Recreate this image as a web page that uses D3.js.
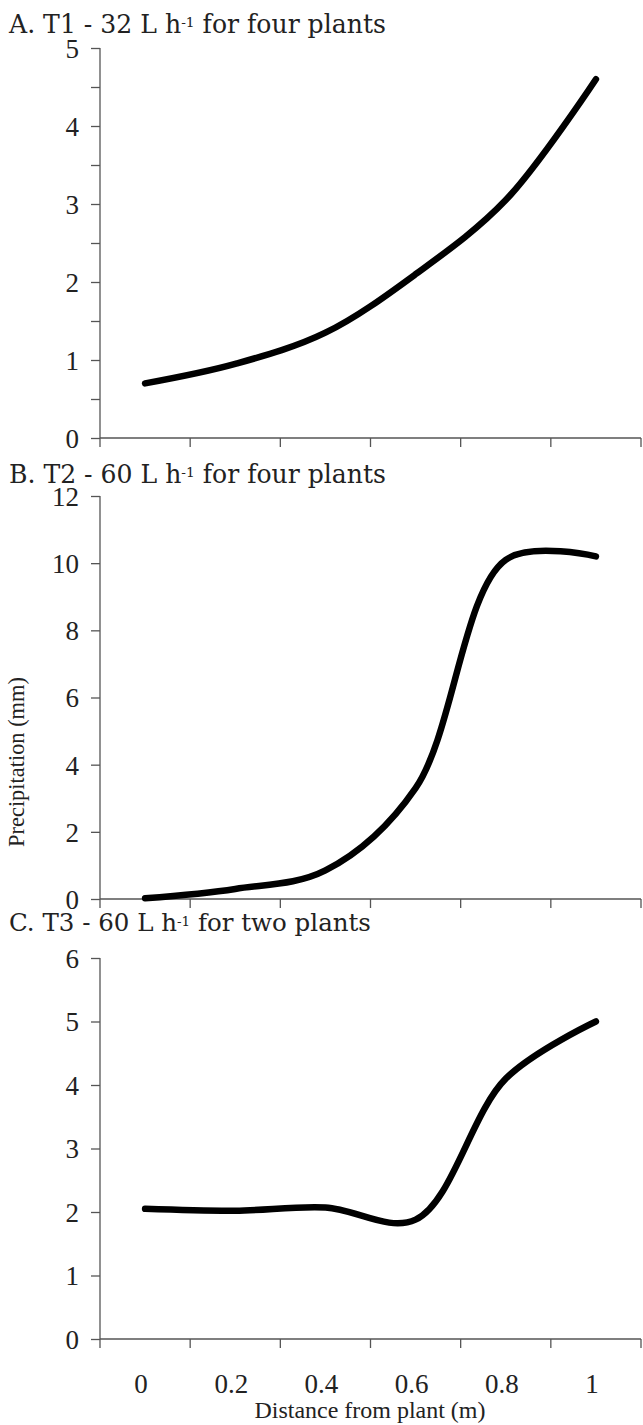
<!DOCTYPE html>
<html>
<head>
<meta charset="utf-8">
<script src="https://cdn.jsdelivr.net/npm/d3@7"></script>
<style>
html,body{margin:0;padding:0;background:#fff;}
svg{display:block;}
</style>
</head>
<body>
<svg id="chart" width="643" height="1425"></svg>
<script>
// ---- data ----
const categories = ["0", "0.2", "0.4", "0.6", "0.8", "1"];
const seriesA = [0.7, 0.95, 1.35, 2.1, 3.05, 4.6];
const seriesB = [0.02, 0.3, 0.85, 3.3, 10.1, 10.2];
const seriesC = [2.05, 2.02, 2.07, 1.88, 4.1, 5.0];
const ticksA = [0, 1, 2, 3, 4, 5];
const ticksB = [0, 2, 4, 6, 8, 10, 12];
const ticksC = [0, 1, 2, 3, 4, 5, 6];
const titles = [
  ["A. T1 - 32 L h", "-1", " for four plants"],
  ["B. T2 - 60 L h", "-1", " for four plants"],
  ["C. T3 - 60 L h", "-1", " for two plants"]
];
const xTitle = "Distance from plant (m)";
const yTitle = "Precipitation (mm)";

// pick an installed Times-like font
function fontAvailable(name) {
  const c = document.createElement("canvas").getContext("2d");
  const s = "mmmmmmmmmwwwwlli10.2ABC";
  c.font = "40px monospace"; const a = c.measureText(s).width;
  c.font = `40px '${name}', monospace`; const b = c.measureText(s).width;
  c.font = "40px sans-serif"; const a2 = c.measureText(s).width;
  c.font = `40px '${name}', sans-serif`; const b2 = c.measureText(s).width;
  return a !== b || a2 !== b2;
}
const serifCandidates = ["Liberation Serif", "Tinos", "Times New Roman", "Times",
  "Nimbus Roman", "FreeSerif", "Noto Serif", "DejaVu Serif"];
const serifName = serifCandidates.find(fontAvailable) || "DejaVu Serif";
const SERIF = `'${serifName}', serif`;
const TITLEFONT = "'DejaVu Serif', serif";

const svg = d3.select("#chart");
const x = d3.scaleBand().domain(categories).range([100, 641]).padding(0);

const panels = [
  {data: seriesA, ticks: ticksA, minor: 0.5, max: 5, top: 48, bottom: 438, titleY: 33, title: titles[0]},
  {data: seriesB, ticks: ticksB, minor: null, max: 12, top: 496, bottom: 899, titleY: 483, title: titles[1]},
  {data: seriesC, ticks: ticksC, minor: null, max: 6, top: 958, bottom: 1339, titleY: 931, title: titles[2]}
];

const axisColor = "#555";

function fitWidth(sel, target, base) {
  sel.style("font-size", base + "px");
  const w = sel.node().getComputedTextLength();
  if (w > 0) sel.style("font-size", (base * target / w).toFixed(2) + "px");
}

panels.forEach((p, idx) => {
  const y = d3.scaleLinear().domain([0, p.max]).range([p.bottom, p.top]);
  const g = svg.append("g");

  // title
  const t = g.append("text").attr("x", 9).attr("y", p.titleY)
    .attr("font-family", TITLEFONT).attr("fill", "#222");
  t.append("tspan").text(p.title[0]);
  t.append("tspan").text(p.title[1]).attr("dy", "-0.4em").style("font-size", "0.55em");
  t.append("tspan").text(p.title[2]).attr("dy", "0.22em");
  fitWidth(t, idx === 2 ? 362 : 377, 22);

  // y axis
  const tickVals = p.minor ? d3.range(0, p.max + 1e-9, p.minor) : p.ticks;
  const yAxis = d3.axisLeft(y).tickValues(tickVals).tickSizeOuter(0).tickSizeInner(9)
    .tickPadding(12)
    .tickFormat(d => p.ticks.includes(d) ? d3.format("d")(d) : "");
  const ya = g.append("g").attr("transform", "translate(100,0)").call(yAxis);
  ya.attr("font-family", SERIF);
  ya.select(".domain").attr("stroke", axisColor).attr("stroke-width", 1.3)
    .attr("d", `M0,${p.bottom}V${p.top}`);
  ya.selectAll(".tick line").attr("stroke", axisColor).attr("stroke-width", 1.3);
  ya.selectAll(".tick text").attr("font-size", 27).attr("dy", "0.35em").attr("fill", "#222");

  // x axis line
  g.append("line").attr("x1", 100).attr("x2", x.range()[1]).attr("y1", p.bottom).attr("y2", p.bottom)
    .attr("stroke", axisColor).attr("stroke-width", 1.3);
  // ticks at category boundaries
  const bounds = categories.map(c => x(c)).concat([x(categories[categories.length - 1]) + x.bandwidth()]);
  g.selectAll(".xt").data(bounds).enter().append("line")
    .attr("x1", d => d).attr("x2", d => d).attr("y1", p.bottom).attr("y2", p.bottom + 9)
    .attr("stroke", axisColor).attr("stroke-width", 1.3);

  // line
  const line = d3.line()
    .x((d, i) => x(categories[i]) + x.bandwidth() / 2)
    .y(d => y(d))
    .curve(d3.curveCatmullRom.alpha(0.5));
  g.append("path").datum(p.data).attr("d", line)
    .attr("fill", "none").attr("stroke", "#000").attr("stroke-width", 6.5)
    .attr("stroke-linecap", "round").attr("stroke-linejoin", "round");

  // x labels only on last panel
  if (idx === panels.length - 1) {
    g.selectAll(".xl").data(categories).enter().append("text")
      .attr("x", d => x(d) + x.bandwidth() / 2 - 4).attr("y", 1393)
      .attr("text-anchor", "middle").attr("font-family", SERIF).attr("fill", "#222")
      .style("font-size", "27px").text(d => d);
    const xt = g.append("text").attr("x", 370).attr("y", 1418).attr("text-anchor", "middle")
      .attr("font-family", SERIF).attr("fill", "#222").text(xTitle);
    fitWidth(xt, 231, 22);
  }
});

const yt = svg.append("text").attr("transform", "translate(24,762) rotate(-90)")
  .attr("text-anchor", "middle").attr("font-family", SERIF).attr("fill", "#222").text(yTitle);
fitWidth(yt, 170, 20);
</script>
</body>
</html>
